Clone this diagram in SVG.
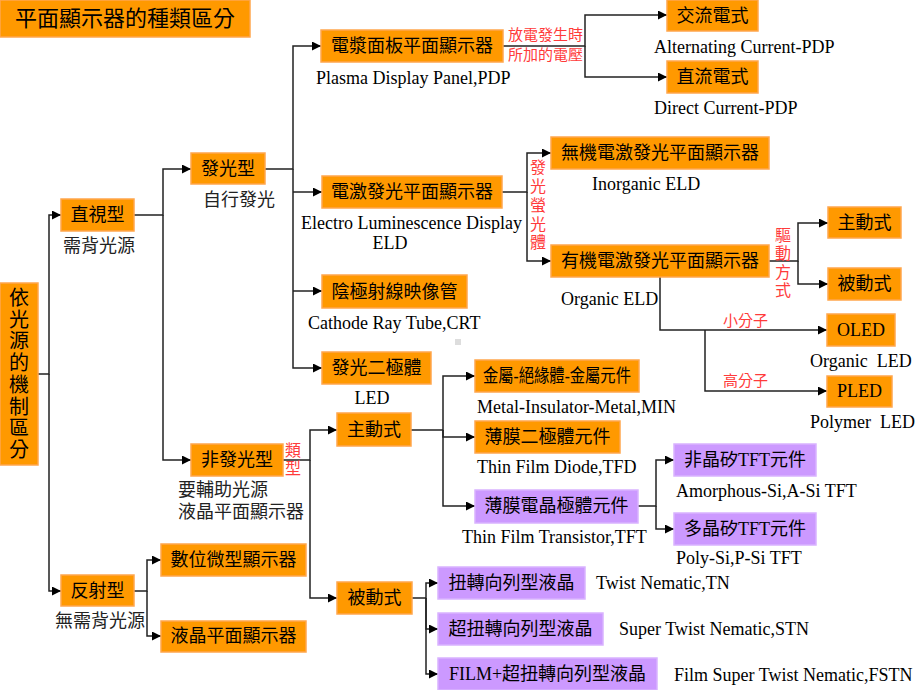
<svg xmlns="http://www.w3.org/2000/svg" width="920" height="690" viewBox="0 0 920 690">
<defs>
<marker id="ah" viewBox="0 0 10 10" refX="10" refY="5" markerWidth="10" markerHeight="9" markerUnits="userSpaceOnUse" orient="auto">
<path d="M0,0 L10,5 L0,10 z" fill="#000"/>
</marker>
<style>
.o{fill:#FF9900;stroke:#FFA64D;stroke-width:1.5}
.p{fill:#CC99FF;stroke:#D9B3FF;stroke-width:1.5}
text{font-family:"Liberation Serif","Noto Sans CJK TC",serif;fill:#000}
.bt{font-size:18px;text-anchor:middle;dominant-baseline:central}
.en{font-size:18px;dominant-baseline:central}
.gl{font-size:18px;fill:#222;dominant-baseline:central}
.rd{font-size:15px;fill:#FF3B3B;dominant-baseline:central}
.rv{font-size:16px;fill:#FF3B3B;text-anchor:middle;dominant-baseline:central}
.c{fill:none;stroke:#222;stroke-width:1.5}
.ca{fill:none;stroke:#222;stroke-width:1.5;marker-end:url(#ah)}
</style>
</defs>
<rect x="0" y="0" width="920" height="690" fill="#fff"/>

<g id="connectors">
<path class="ca" d="M38,374 H49 V215 H61"/>
<path class="ca" d="M49,374 V591 H61"/>
<path class="ca" d="M134,215 H163 V169 H191"/>
<path class="ca" d="M163,215 V460 H191"/>
<path class="ca" d="M265,169 H293 V46 H321"/>
<path class="ca" d="M293,169 V368 H322"/>
<path class="ca" d="M293,192 H322"/>
<path class="ca" d="M293,291 H322"/>
<path class="ca" d="M503,46 H585 V15 H667"/>
<path class="ca" d="M585,46 V77 H667"/>
<path class="ca" d="M502,192 H527 V153 H551"/>
<path class="ca" d="M527,192 V261 H551"/>
<path class="ca" d="M769,261 H798 V223 H828"/>
<path class="ca" d="M798,261 V284 H828"/>
<path class="ca" d="M660,277 V330 H827"/>
<path class="ca" d="M705,330 V391 H827"/>
<path class="ca" d="M283,460 H310 V430 H337"/>
<path class="ca" d="M310,460 V598 H337"/>
<path class="ca" d="M411,430 H443 V376 H475"/>
<path class="ca" d="M443,430 V437 H475"/>
<path class="ca" d="M443,430 V506 H475"/>
<path class="ca" d="M638,506 H656 V460 H674"/>
<path class="ca" d="M656,506 V529 H674"/>
<path class="ca" d="M412,598 H426 V583 H438"/>
<path class="ca" d="M426,598 V629 H438"/>
<path class="ca" d="M426,598 V674 H438"/>
<path class="ca" d="M134,591 H147 V560 H161"/>
<path class="ca" d="M147,591 V636 H161"/>
</g>

<g id="title"><rect class="o" x="0" y="0" width="250" height="37"/><text x="125" y="18.5" style="font-size:22px;text-anchor:middle;dominant-baseline:central">平面顯示器的種類區分</text></g>

<g id="root"><rect class="o" x="0" y="283" width="38" height="182"/>
<text style="font-size:20px;text-anchor:middle;dominant-baseline:central">
<tspan x="19" y="298">依</tspan><tspan x="19" y="320">光</tspan><tspan x="19" y="341">源</tspan><tspan x="19" y="363">的</tspan><tspan x="19" y="385">機</tspan><tspan x="19" y="407">制</tspan><tspan x="19" y="428">區</tspan><tspan x="19" y="450">分</tspan>
</text></g>

<g id="direct"><rect class="o" x="61" y="199" width="73" height="32"/><text class="bt" x="97.5" y="215">直視型</text><text class="gl" x="63" y="246">需背光源</text></g>
<g id="reflect"><rect class="o" x="61" y="575" width="73" height="31"/><text class="bt" x="97.5" y="591">反射型</text><text class="gl" x="55" y="621">無需背光源</text></g>
<g id="emissive"><rect class="o" x="191" y="153" width="74" height="31"/><text class="bt" x="228" y="169">發光型</text><text class="gl" x="203" y="200">自行發光</text></g>
<g id="nonemissive"><rect class="o" x="191" y="444" width="92" height="32"/><text class="bt" x="237" y="460">非發光型</text>
<text class="gl" x="178" y="490">要輔助光源</text><text class="gl" x="178" y="512">液晶平面顯示器</text>
<text class="rv"><tspan x="293" y="450">類</tspan><tspan x="293" y="468">型</tspan></text></g>

<g id="pdp"><rect class="o" x="321" y="30" width="182" height="32"/><text class="bt" x="412" y="46">電漿面板平面顯示器</text><text class="en" x="316" y="78">Plasma Display Panel,PDP</text>
<text class="rd" x="508" y="35">放電發生時</text><text class="rd" x="508" y="55">所加的電壓</text></g>
<g id="acpdp"><rect class="o" x="667" y="0" width="91" height="31"/><text class="bt" x="712.5" y="15.5">交流電式</text><text class="en" x="654" y="47">Alternating Current-PDP</text></g>
<g id="dcpdp"><rect class="o" x="667" y="61" width="91" height="32"/><text class="bt" x="712.5" y="77">直流電式</text><text class="en" x="654" y="108">Direct Current-PDP</text></g>

<g id="eld"><rect class="o" x="322" y="176" width="180" height="32"/><text class="bt" x="412" y="192">電激發光平面顯示器</text>
<text class="en" x="301" y="223">Electro Luminescence Display</text><text class="en" x="390" y="243" text-anchor="middle">ELD</text>
<text class="rv"><tspan x="538" y="167">發</tspan><tspan x="538" y="186">光</tspan><tspan x="538" y="205">螢</tspan><tspan x="538" y="224">光</tspan><tspan x="538" y="242">體</tspan></text></g>
<g id="ield"><rect class="o" x="551" y="137" width="218" height="32"/><text class="bt" x="660" y="153">無機電激發光平面顯示器</text><text class="en" x="592" y="184">Inorganic ELD</text></g>
<g id="oeld"><rect class="o" x="551" y="245" width="218" height="32"/><text class="bt" x="660" y="261">有機電激發光平面顯示器</text><text class="en" x="561" y="299">Organic ELD</text>
<text class="rv"><tspan x="783" y="235">驅</tspan><tspan x="783" y="253">動</tspan><tspan x="783" y="272">方</tspan><tspan x="783" y="290">式</tspan></text>
<text class="rd" x="723" y="321">小分子</text><text class="rd" x="723" y="381">高分子</text></g>
<g id="eactive"><rect class="o" x="828" y="207" width="73" height="31"/><text class="bt" x="864.5" y="223">主動式</text></g>
<g id="epassive"><rect class="o" x="828" y="268" width="73" height="32"/><text class="bt" x="864.5" y="284">被動式</text></g>
<g id="oled"><rect class="o" x="827" y="314" width="68" height="32"/><text class="bt" x="861" y="330">OLED</text><text class="en" x="810" y="361" xml:space="preserve">Organic  LED</text></g>
<g id="pled"><rect class="o" x="827" y="376" width="65" height="31"/><text class="bt" x="859.5" y="391">PLED</text><text class="en" x="810" y="422" xml:space="preserve">Polymer  LED</text></g>

<g id="crt"><rect class="o" x="322" y="275" width="145" height="33"/><text class="bt" x="394.5" y="291.5">陰極射線映像管</text><text class="en" x="308" y="323">Cathode Ray Tube,CRT</text></g>
<rect x="455" y="339" width="6" height="6" fill="#ddd"/>
<g id="led"><rect class="o" x="322" y="352" width="109" height="32"/><text class="bt" x="376.5" y="368">發光二極體</text><text class="en" x="372" y="398" text-anchor="middle">LED</text></g>

<g id="lactive"><rect class="o" x="337" y="413" width="74" height="33"/><text class="bt" x="374" y="430">主動式</text></g>
<g id="mim"><rect class="o" x="475" y="360" width="164" height="32"/><text class="bt" x="557" y="376" textLength="148" lengthAdjust="spacingAndGlyphs">金屬-絕緣體-金屬元件</text><text class="en" x="477" y="407">Metal-Insulator-Metal,MIN</text></g>
<g id="tfd"><rect class="o" x="475" y="421" width="145" height="32"/><text class="bt" x="547.5" y="437">薄膜二極體元件</text><text class="en" x="477" y="467">Thin Film Diode,TFD</text></g>
<g id="tft"><rect class="p" x="475" y="490" width="163" height="33"/><text class="bt" x="556.5" y="506">薄膜電晶極體元件</text><text class="en" x="462" y="537">Thin Film Transistor,TFT</text></g>
<g id="asi"><rect class="p" x="674" y="444" width="142" height="32"/><text class="bt" x="745" y="460">非晶矽TFT元件</text><text class="en" x="676" y="491">Amorphous-Si,A-Si TFT</text></g>
<g id="psi"><rect class="p" x="674" y="513" width="142" height="32"/><text class="bt" x="745" y="529">多晶矽TFT元件</text><text class="en" x="676" y="558">Poly-Si,P-Si TFT</text></g>

<g id="lpassive"><rect class="o" x="337" y="582" width="75" height="32"/><text class="bt" x="374.5" y="598">被動式</text></g>
<g id="tn"><rect class="p" x="438" y="567" width="147" height="32"/><text class="bt" x="511.5" y="583">扭轉向列型液晶</text><text class="en" x="596" y="583">Twist Nematic,TN</text></g>
<g id="stn"><rect class="p" x="438" y="613" width="165" height="32"/><text class="bt" x="520.5" y="629">超扭轉向列型液晶</text><text class="en" x="619" y="629">Super Twist Nematic,STN</text></g>
<g id="fstn"><rect class="p" x="438" y="658" width="219" height="32"/><text class="bt" x="547.5" y="674">FILM+超扭轉向列型液晶</text><text class="en" x="674" y="675">Film Super Twist Nematic,FSTN</text></g>

<g id="dmd"><rect class="o" x="161" y="544" width="145" height="32"/><text class="bt" x="233.5" y="560">數位微型顯示器</text></g>
<g id="rlcd"><rect class="o" x="161" y="621" width="145" height="31"/><text class="bt" x="233.5" y="636">液晶平面顯示器</text></g>
</svg>
